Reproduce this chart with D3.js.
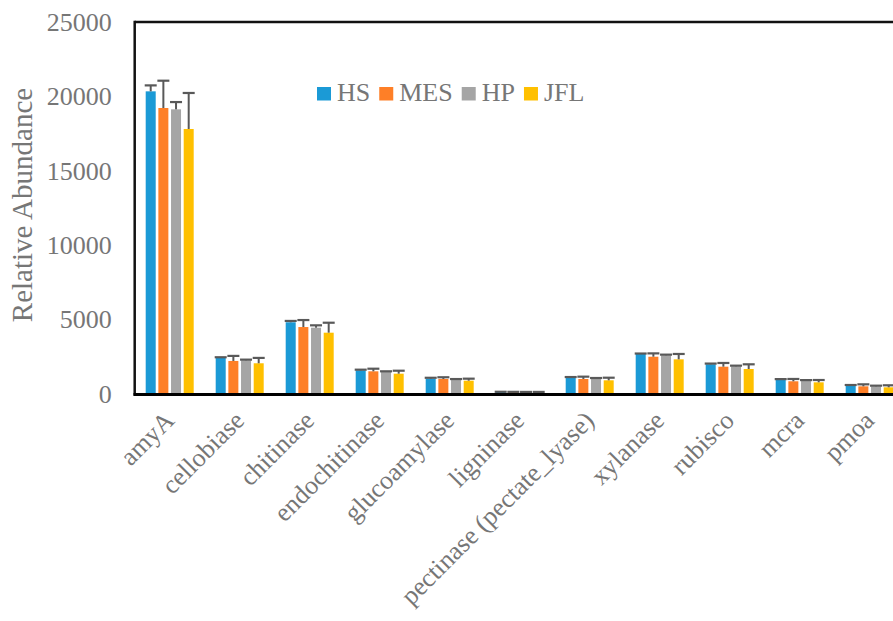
<!DOCTYPE html>
<html>
<head>
<meta charset="utf-8">
<script src="https://cdn.jsdelivr.net/npm/d3@7/dist/d3.min.js"></script>
<style>
  html, body { margin: 0; padding: 0; background: #fff; }
  svg { display: block; }
  text { font-family: "Liberation Serif", "Times New Roman", serif; }
</style>
</head>
<body>
<svg id="chart" width="893" height="621"></svg>
<script>
const categories = ["amyA", "cellobiase", "chitinase", "endochitinase", "glucoamylase",
  "ligninase", "pectinase (pectate_lyase)", "xylanase", "rubisco", "mcra", "pmoa"];
const seriesNames = ["HS", "MES", "HP", "JFL"];
const seriesColors = ["#1B9AD6", "#FE7F27", "#A5A5A5", "#FFC000"];

const valuesHS  = [20340, 2420, 4820, 1590, 1030, 130, 1075, 2690, 2000, 960, 560];
const valuesMES = [19220, 2220, 4500, 1525, 1010, 125, 1010, 2505, 1835, 855, 515];
const valuesHP  = [19130, 2265, 4455, 1480, 960, 120, 1030, 2600, 1860, 895, 515];
const valuesJFL = [17810, 2065, 4120, 1365, 895, 120, 920, 2330, 1680, 785, 450];

const errHS  = [400, 50, 90, 45, 60, 20, 65, 30, 45, 40, 45];
const errMES = [1835, 340, 470, 175, 115, 20, 155, 225, 250, 155, 135];
const errHP  = [490, 45, 160, 45, 45, 20, 45, 45, 45, 40, 45];
const errJFL = [2420, 360, 670, 200, 135, 20, 175, 360, 315, 155, 135];

const yTicks = [0, 5000, 10000, 15000, 20000, 25000];
const yTitle = "Relative Abundance";

const allValues = [valuesHS, valuesMES, valuesHP, valuesJFL];
const allErrs = [errHS, errMES, errHP, errJFL];

const svg = d3.select("#chart");
const textColor = "#767676";

const plotLeft = 134.7, plotTop = 22, plotBottom = 394;
const x0 = d3.scaleBand().domain(categories).range([plotLeft, plotLeft + 70 * categories.length]).padding(0);
const x1 = d3.scaleBand().domain(seriesNames).range([11, 59]).paddingInner(0.21).paddingOuter(0);
const y = d3.scaleLinear().domain([0, 25000]).range([plotBottom, plotTop]);

// bars
const groups = svg.append("g").selectAll("g")
  .data(categories)
  .join("g")
  .attr("transform", d => `translate(${x0(d)},0)`);

seriesNames.forEach((s, si) => {
  groups.append("rect")
    .attr("x", x1(s))
    .attr("width", x1.bandwidth())
    .attr("y", (d, i) => y(allValues[si][i]))
    .attr("height", (d, i) => y(0) - y(allValues[si][i]))
    .attr("fill", seriesColors[si]);
});

// error bars
seriesNames.forEach((s, si) => {
  const cx = x1(s) + x1.bandwidth() / 2;
  groups.append("line")
    .attr("x1", cx).attr("x2", cx)
    .attr("y1", (d, i) => y(allValues[si][i]))
    .attr("y2", (d, i) => y(allValues[si][i] + allErrs[si][i]))
    .attr("stroke", "#595959").attr("stroke-width", 2);
  groups.append("line")
    .attr("x1", cx - 6).attr("x2", cx + 6)
    .attr("y1", (d, i) => y(allValues[si][i] + allErrs[si][i]))
    .attr("y2", (d, i) => y(allValues[si][i] + allErrs[si][i]))
    .attr("stroke", "#595959").attr("stroke-width", 2.2);
});

// frame: top, left, bottom
svg.append("line").attr("x1", plotLeft).attr("x2", 893).attr("y1", plotTop).attr("y2", plotTop)
  .attr("stroke", "#111").attr("stroke-width", 2.5);
svg.append("line").attr("x1", plotLeft).attr("x2", plotLeft).attr("y1", plotTop - 1.2).attr("y2", plotBottom + 1.5)
  .attr("stroke", "#111").attr("stroke-width", 2.5);
svg.append("line").attr("x1", plotLeft - 1.2).attr("x2", 893).attr("y1", plotBottom + 0.5).attr("y2", plotBottom + 0.5)
  .attr("stroke", "#000").attr("stroke-width", 3);

// y axis labels
const yAxis = d3.axisLeft(y).tickValues(yTicks).tickSize(0).tickPadding(23).tickFormat(d3.format("d"));
const ya = svg.append("g").attr("transform", `translate(${plotLeft},0)`).call(yAxis);
ya.select(".domain").remove();
ya.selectAll("text").attr("fill", textColor).style("font-size", "26px")
  .style("font-family", "'Liberation Serif','Times New Roman',serif");

// y title
svg.append("text")
  .attr("transform", `translate(32,205) rotate(-90)`)
  .attr("text-anchor", "middle")
  .attr("fill", textColor)
  .style("font-size", "29px")
  .text(yTitle);

// x labels
svg.append("g").selectAll("text")
  .data(categories)
  .join("text")
  .attr("transform", d => `translate(${x0(d) + x0.bandwidth() / 2 + 6},422) rotate(-45)`)
  .attr("text-anchor", "end")
  .attr("fill", textColor)
  .style("font-size", "26px")
  .text(d => d);

// legend
const legend = svg.append("g");
let lx = 317;
seriesNames.forEach((s, si) => {
  legend.append("rect").attr("x", lx).attr("y", 87).attr("width", 14).attr("height", 13.5)
    .attr("fill", seriesColors[si]);
  const t = legend.append("text").attr("x", lx + 20).attr("y", 101)
    .attr("fill", textColor).style("font-size", "26px").text(s);
  lx += 20 + t.node().getComputedTextLength() + 9;
});
</script>
</body>
</html>
